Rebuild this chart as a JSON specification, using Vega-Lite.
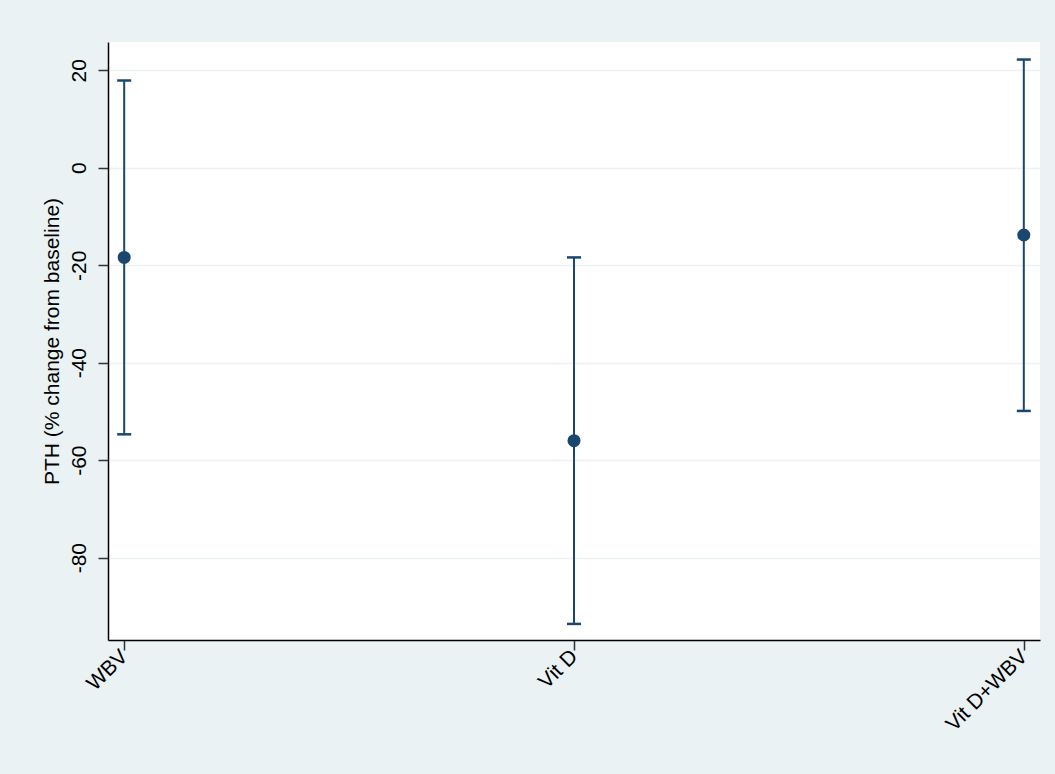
{
  "$schema": "https://vega.github.io/schema/vega-lite/v6.json",
  "autosize": {"type": "none"},
  "padding": {"left": 108, "top": 42, "right": 15, "bottom": 134},
  "width": 932,
  "height": 598,
  "background": "#EAF2F3",
  "config": {
    "view": {"fill": "white", "stroke": null},
    "font": "Liberation Sans"
  },
  "data": {
    "values": [
      {"group": "WBV", "mean": -18.4, "lo": -54.7, "hi": 17.9},
      {"group": "Vit D", "mean": -56.0, "lo": -93.6, "hi": -18.4},
      {"group": "Vit D+WBV", "mean": -13.8, "lo": -49.9, "hi": 22.2}
    ]
  },
  "encoding": {
    "x": {
      "field": "group",
      "type": "nominal",
      "sort": ["WBV", "Vit D", "Vit D+WBV"],
      "scale": {"type": "point", "padding": 0.036},
      "axis": {
        "title": null,
        "labelAngle": -45,
        "labelAlign": "right",
        "labelBaseline": "middle",
        "labelFontSize": 21,
        "labelColor": "black",
        "labelPadding": 3,
        "tickSize": 10,
        "tickColor": "#333333",
        "domainColor": "black",
        "domainWidth": 1.5,
        "tickWidth": 1.5,
        "grid": false
      }
    }
  },
  "layer": [
    {
      "mark": {"type": "rule", "color": "#1A476F", "strokeWidth": 2},
      "encoding": {
        "y": {
          "field": "lo",
          "type": "quantitative",
          "scale": {"domain": [-96.9, 25.8], "nice": false, "zero": false},
          "axis": {
            "values": [-80, -60, -40, -20, 0, 20],
            "labelExpr": "'' + datum.value",
            "title": "PTH (% change from baseline)",
            "titleFontSize": 21,
            "titleFontWeight": "normal",
            "titleColor": "black",
            "titlePadding": 6,
            "labelAngle": -90,
            "labelAlign": "center",
            "labelBaseline": "bottom",
            "labelFontSize": 21,
            "labelColor": "black",
            "labelPadding": 9,
            "tickSize": 10,
            "tickColor": "#333333",
            "tickWidth": 1.5,
            "domainColor": "black",
            "domainWidth": 1.5,
            "grid": true,
            "gridColor": "#EAF2F3",
            "gridWidth": 1.5
          }
        },
        "y2": {"field": "hi"}
      }
    },
    {
      "mark": {"type": "tick", "color": "#1A476F", "opacity": 1, "thickness": 2.5, "size": 14, "orient": "horizontal"},
      "encoding": {"y": {"field": "lo", "type": "quantitative"}}
    },
    {
      "mark": {"type": "tick", "color": "#1A476F", "opacity": 1, "thickness": 2.5, "size": 14, "orient": "horizontal"},
      "encoding": {"y": {"field": "hi", "type": "quantitative"}}
    },
    {
      "mark": {"type": "circle", "color": "#1A476F", "opacity": 1, "size": 170},
      "encoding": {"y": {"field": "mean", "type": "quantitative"}}
    }
  ]
}
